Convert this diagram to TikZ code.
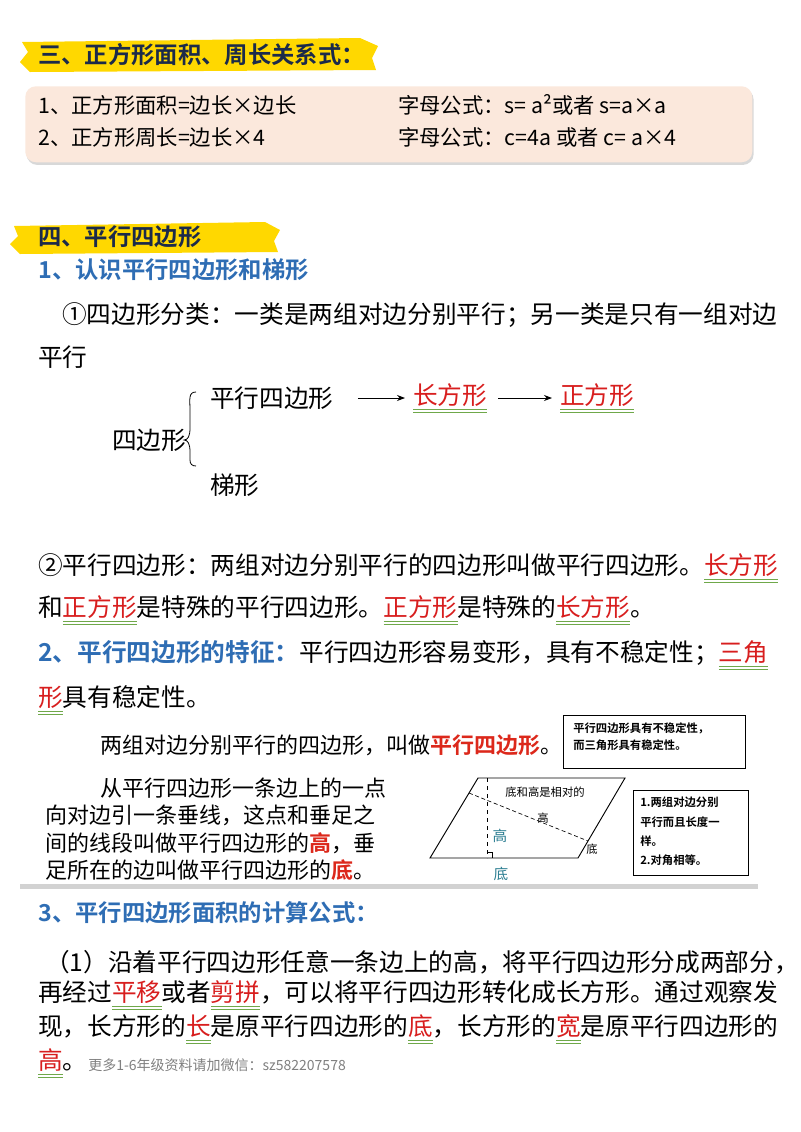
\documentclass[tikz,border=0pt]{standalone}
\usepackage{fontspec}
\setmainfont{Noto Sans CJK SC}
\newfontfamily\cjkb{Noto Sans CJK SC Bold}
\usetikzlibrary{arrows.meta,shadows}
\definecolor{navy}{HTML}{1B2A4A}
\definecolor{ublue}{HTML}{2E6DB4}
\definecolor{ured}{HTML}{D81E1E}
\definecolor{ugreen}{HTML}{6FA84A}
\definecolor{peach}{HTML}{FBE8DC}
\definecolor{teal2}{HTML}{2C7E92}
\definecolor{ylw}{HTML}{FFD800}
\newcommand\hlu[1]{\setbox0\hbox{\textcolor{ured}{#1}}\leavevmode\rlap{\raisebox{-4.5pt}{\textcolor{ugreen}{\rule{\wd0}{0.7pt}}}}\rlap{\raisebox{-6.3pt}{\textcolor{ugreen}{\rule{\wd0}{0.7pt}}}}\box0}
\tikzset{
 txt/.style={anchor=west,inner sep=0pt,font=\fontsize{18.5}{20}\selectfont},
 head/.style={anchor=west,inner sep=0pt,font=\cjkb\fontsize{17.5}{20}\selectfont,text=navy},
 sub/.style={anchor=west,inner sep=0pt,font=\cjkb\fontsize{17.5}{20}\selectfont,text=ublue},
 boxt/.style={anchor=west,inner sep=0pt,font=\fontsize{16}{18}\selectfont},
 pic/.style={anchor=west,inner sep=0pt,font=\fontsize{16.5}{18}\selectfont},
 small/.style={inner sep=0pt,font=\fontsize{8.5}{10}\selectfont},
 frame/.style={draw=black,line width=0.7pt,fill=white},
 arr/.style={-{Stealth[length=6pt]},line width=0.6pt}
}
\begin{document}
\begin{tikzpicture}[x=0.75pt,y=-0.75pt]
\useasboundingbox[fill=white] (0,0) rectangle (800,1132);
% heading 1
\fill[ylw] (22,42) -- (360,38) -- (378,46) -- (372,58) -- (376,70) -- (30,72) -- (20,62) -- (28,52) -- cycle;
\node[head] (h1) at (38,55) {三、正方形面积、周长关系式：};
\node[draw=none,fill=peach,rounded corners=8pt,drop shadow={opacity=0.3,shadow xshift=1pt,shadow yshift=-2pt},minimum width=727*0.75pt,minimum height=76*0.75pt,anchor=north west,inner sep=0pt] (bx) at (25,86) {};
\node[boxt] (b1) at (38,105) {1、正方形面积=边长×边长};
\node[boxt] (b2) at (38,137) {2、正方形周长=边长×4};
\node[boxt] (b3) at (398,105) {字母公式：s= a²或者 s=a×a};
\node[boxt] (b4) at (398,137) {字母公式：c=4a 或者 c= a×4};
% heading 2
\fill[ylw] (14,226) -- (265,222) -- (280,230) -- (274,241) -- (278,252) -- (20,254) -- (10,244) -- (18,236) -- cycle;
\node[head] (h2) at (38,237) {四、平行四边形};
\node[sub] (s1) at (38,270) {1、认识平行四边形和梯形};
\node[txt] (p1) at (62,315) {①四边形分类：一类是两组对边分别平行；另一类是只有一组对边};
\node[txt] (p2) at (38,357) {平行};
\node[txt] (q1) at (210,398) {平行四边形};
\node[txt] (q2) at (413,398) {\hlu{长方形}};
\node[txt] (q3) at (560,398) {\hlu{正方形}};
\draw[arr] (q1.east)++(18pt,0) coordinate (a1) -- ([xshift=-6pt]q2.west);
\draw[arr] ([xshift=8pt]q2.east) -- ([xshift=-6pt]q3.west);
\node[txt] (q0) at (112,440) {四边形};
\node[txt] (q4) at (210,485) {梯形};
\draw[line width=0.6pt] (196,392) .. controls (188,392) and (190,400) .. (190,410) -- (190,428) .. controls (190,436) and (188,440) .. (184,440) .. controls (188,440) and (190,444) .. (190,452) -- (190,460) .. controls (190,464) and (192,466) .. (196,466);
\node[txt] (r1) at (38,568) {②平行四边形：两组对边分别平行的四边形叫做平行四边形。\hlu{长方形}};
\node[txt] (r2) at (38,610) {和\hlu{正方形}是特殊的平行四边形。\hlu{正方形}是特殊的\hlu{长方形}。};
\node[txt] (r3) at (38,655) {{\cjkb\color{ublue}2、平行四边形的特征：}平行四边形容易变形，具有不稳定性；\hlu{三角}};
\node[txt] (r4) at (38,700) {\hlu{形}具有稳定性。};
% picture
\fill[gray!35] (20,884) rectangle (758,889);
\node[pic] (i1) at (100,745) {两组对边分别平行的四边形，叫做{\cjkb\color{ured!90!orange}平行四边形}。};
\node[pic] (i2) at (100,788) {从平行四边形一条边上的一点};
\node[pic] (i3) at (45,815) {向对边引一条垂线，这点和垂足之};
\node[pic] (i4) at (45,843) {间的线段叫做平行四边形的{\cjkb\color{ured!90!orange}高}，垂};
\node[pic] (i5) at (45,870) {足所在的边叫做平行四边形的{\cjkb\color{ured!90!orange}底}。};
\node[frame,anchor=north west,minimum width=182*0.75pt,minimum height=53*0.75pt] (k1) at (563,715) {};
\node[small,anchor=north west,align=left,font=\cjkb\fontsize{8.5}{13}\selectfont] (k1t) at (573,722) {平行四边形具有不稳定性，\\而三角形具有稳定性。};
\node[frame,anchor=north west,minimum width=115*0.75pt,minimum height=85*0.75pt] (k2) at (633,790) {};
\node[small,anchor=north west,align=left,font=\cjkb\fontsize{8.5}{14.5}\selectfont] (k2t) at (640,797) {1.两组对边分别\\平行而且长度一\\样。\\2.对角相等。};
\coordinate (A) at (430,858); \coordinate (B) at (578,858);
\coordinate (C) at (625,778); \coordinate (D) at (478,778);
\draw[line width=0.7pt] (A) -- (B) -- (C) -- (D) -- cycle;
\coordinate (H1) at (487,778); \coordinate (H2) at (487,858);
\draw[dashed,line width=0.5pt] (H1) -- (H2);
\draw[line width=0.4pt] (487,852) -- (492,852) -- (492,858);
\coordinate (E) at (469,793); \coordinate (F) at (588,841);
\draw[densely dashed,line width=0.5pt] (E) -- (F);
\node[small] (l1) at (545,792) {底和高是相对的};
\node[small] (l2) at (543,818) {高};
\node[small] (l3) at (592,849) {底};
\node[inner sep=0pt,font=\fontsize{11}{12}\selectfont,text=teal2] (l4) at (500,836) {高};
\node[inner sep=0pt,font=\fontsize{11}{12}\selectfont,text=teal2] (l5) at (501,874) {底};
% section 3
\node[sub] (s3) at (38,913) {3、平行四边形面积的计算公式：};
\node[txt] (t1) at (45,962) {（1）沿着平行四边形任意一条边上的高，将平行四边形分成两部分，};
\node[txt] (t2) at (38,995) {再经过\hlu{平移}或者\hlu{剪拼}，可以将平行四边形转化成长方形。通过观察发};
\node[txt] (t3) at (38,1029) {现，长方形的\hlu{长}是原平行四边形的\hlu{底}，长方形的\hlu{宽}是原平行四边形的};
\node[txt] (t4) at (38,1063) {\hlu{高}。};
\node[anchor=west,inner sep=0pt,font=\fontsize{10.5}{12}\selectfont,text=gray] (t5) at (88,1065) {更多1-6年级资料请加微信：sz582207578};
\end{tikzpicture}
\end{document}
